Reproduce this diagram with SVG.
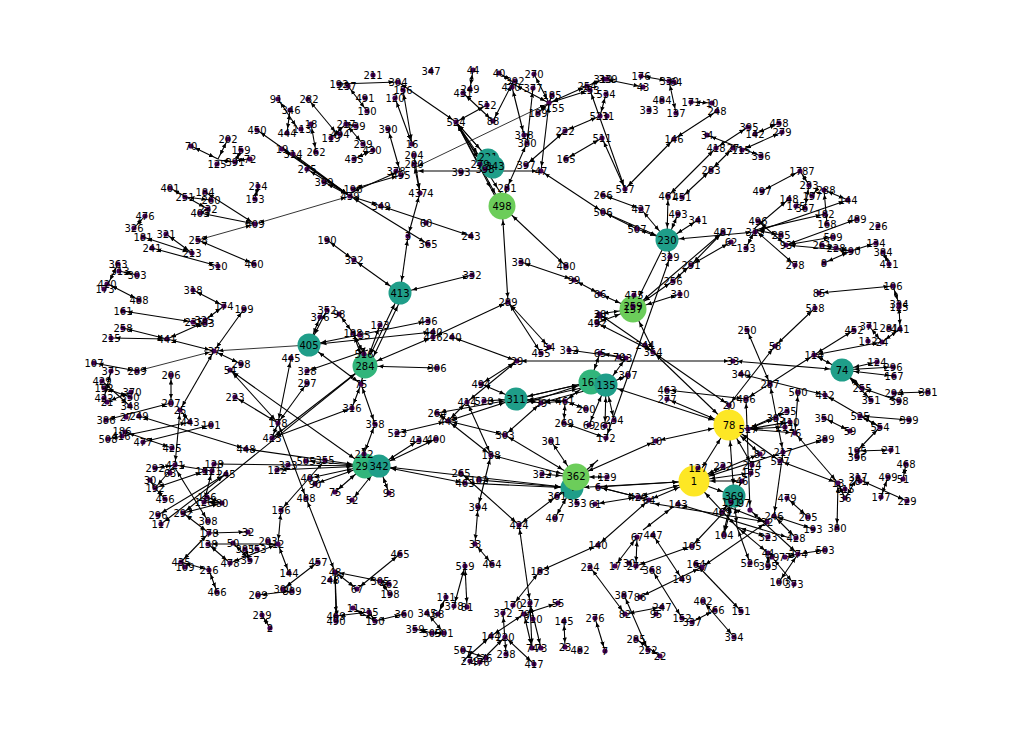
<svg xmlns="http://www.w3.org/2000/svg" width="1022" height="734" viewBox="0 0 1022 734">
<style>
path{fill:none;stroke:#000;stroke-width:1.1}
.t path{stroke-width:.8}
#connectors{marker-start:url(#m0);marker-end:url(#m0)}
.b1{marker-end:url(#m1)}.b2{marker-end:url(#m2)}.b3{marker-end:url(#m3)}.b4{marker-end:url(#m4)}
.a1{marker-start:url(#m1)}.a2{marker-start:url(#m2)}.a4{marker-start:url(#m4)}
circle{r:2.6px;fill:#440154}
text{font:10px "DejaVu Sans",sans-serif;fill:#000;text-anchor:middle;dominant-baseline:central}
.T circle{r:11.5px;fill:#1f9e89}
.G circle{r:12.5px;fill:#31b57b}
.L circle{r:13.5px;fill:#6ccd5a}
.Y circle{r:15.5px;fill:#fde725}
</style>
<defs>
<marker id="m0" markerUnits="userSpaceOnUse" orient="auto-start-reverse" markerWidth="6" markerHeight="5" refX="9.5" refY="2.5"><path d="M0 .3L5 2.5L0 4.7Z" style="fill:#000;stroke:none"/></marker>
<marker id="m1" markerUnits="userSpaceOnUse" orient="auto-start-reverse" markerWidth="6" markerHeight="5" refX="17.5" refY="2.5"><path d="M0 .3L5 2.5L0 4.7Z" style="fill:#000;stroke:none"/></marker>
<marker id="m2" markerUnits="userSpaceOnUse" orient="auto-start-reverse" markerWidth="6" markerHeight="5" refX="18.5" refY="2.5"><path d="M0 .3L5 2.5L0 4.7Z" style="fill:#000;stroke:none"/></marker>
<marker id="m3" markerUnits="userSpaceOnUse" orient="auto-start-reverse" markerWidth="6" markerHeight="5" refX="19.5" refY="2.5"><path d="M0 .3L5 2.5L0 4.7Z" style="fill:#000;stroke:none"/></marker>
<marker id="m4" markerUnits="userSpaceOnUse" orient="auto-start-reverse" markerWidth="6" markerHeight="5" refX="21.5" refY="2.5"><path d="M0 .3L5 2.5L0 4.7Z" style="fill:#000;stroke:none"/></marker>
</defs>
<g id="connectors">
<path d="M278 99L298 129"/><path d="M290 110L287 133"/><path d="M311 124L316 152"/><path d="M308 99L338 135"/><path d="M331 138L346 124"/><path d="M346 124L363 144"/><path d="M356 126L346 124"/><path d="M354 159L373 150"/><path d="M257 130L350 196"/><path d="M282 149L350 196"/><path d="M293 154L350 196"/><path d="M307 169L350 196"/><path d="M324 182L350 196"/><path d="M191 146L218 159"/><path d="M228 139L218 159"/><path d="M241 150L235 162"/><path d="M248 159L235 161"/><path d="M218 160L235 162"/><path d="M258 186L255 199"/><path d="M170 188L208 209"/><path d="M185 197L211 200"/><path d="M205 192L255 224"/><path d="M200 213L255 224"/><path d="M208 209L200 213"/><path d="M145 216L134 228"/><path d="M143 237L192 253"/><path d="M166 234L192 253"/><path d="M152 248L218 266"/><path d="M198 240L254 264"/><path d="M327 240L354 260"/><path d="M118 264L108 284"/><path d="M119 271L137 275"/><path d="M108 284L139 300"/><path d="M339 84L398 82"/><path d="M348 86L367 111"/><path d="M398 82L456 122"/><path d="M403 90L412 144"/><path d="M395 98L412 144"/><path d="M388 129L400 171"/><path d="M414 155L420 193"/><path d="M414 164L420 193"/><path d="M400 171L350 193"/><path d="M401 175L353 189"/><path d="M414 171L541 171"/>
<g class="t"><path d="M255 224L350 196"/><path d="M198 240L255 224"/><path d="M414 168L549 103"/><path d="M309 345L214 351"/><path d="M214 351L137 371"/></g>
<path d="M463 93L493 121"/><path d="M487 105L456 122"/><path d="M470 89L473 70"/><path d="M499 73L513 82"/><path d="M513 82L493 121"/><path d="M512 87L524 135"/><path d="M534 74L549 103"/><path d="M533 88L527 143"/><path d="M513 84L549 103"/><path d="M552 95L549 103"/><path d="M587 86L549 103"/><path d="M590 90L549 103"/><path d="M538 113L549 103"/><path d="M549 103L541 171"/><path d="M604 79L587 86"/><path d="M641 76L669 81"/><path d="M604 79L643 87"/><path d="M590 90L625 189"/><path d="M606 94L600 116"/><path d="M600 116L565 131"/><path d="M565 131L526 165"/><path d="M602 138L566 159"/><path d="M602 138L625 189"/><path d="M625 189L674 139"/><path d="M674 139L717 111"/><path d="M527 143L507 188"/><path d="M541 171L603 212"/><path d="M603 212L637 229"/><path d="M603 195L641 209"/><path d="M521 262L574 280"/><path d="M574 280L600 294"/><path d="M508 302L549 347"/><path d="M508 302L541 353"/><path d="M381 206L471 236"/><path d="M381 206L350 196"/><path d="M350 196L428 244"/><path d="M408 236L420 193"/><path d="M669 81L676 113"/><path d="M691 102L712 103"/><path d="M668 196L716 148"/><path d="M682 197L711 170"/><path d="M711 170L733 148"/><path d="M716 148L748 127"/><path d="M707 135L761 156"/><path d="M742 150L782 132"/><path d="M755 134L779 123"/><path d="M762 191L800 171"/><path d="M809 185L805 208"/><path d="M809 185L800 171"/><path d="M789 199L755 228"/><path d="M758 221L786 245"/><path d="M755 230L746 248"/><path d="M795 265L755 230"/><path d="M755 230L825 214"/><path d="M781 235L755 230"/><path d="M755 232L848 200"/><path d="M824 190L848 200"/><path d="M824 190L827 224"/><path d="M786 245L857 219"/><path d="M786 245L833 237"/><path d="M786 245L851 251"/><path d="M822 245L851 251"/><path d="M851 251L876 243"/><path d="M851 251L824 263"/><path d="M883 252L889 264"/><path d="M812 196L818 188"/>
<path d="M723 232L691 265"/><path d="M731 242L691 265"/><path d="M691 265L673 281"/><path d="M214 351L244 309"/><path d="M214 351L180 410"/><path d="M214 351L241 364"/><path d="M214 351L167 339"/><path d="M167 339L123 328"/><path d="M167 339L111 338"/><path d="M167 339L205 322"/><path d="M193 290L224 306"/><path d="M224 306L205 320"/><path d="M123 311L193 322"/><path d="M171 403L171 375"/><path d="M171 403L106 420"/><path d="M180 410L175 465"/><path d="M180 410L190 422"/><path d="M211 425L143 442"/><path d="M139 416L246 449"/><path d="M108 439L190 422"/><path d="M125 432L172 448"/><path d="M94 363L137 371"/><path d="M111 371L104 398"/><path d="M102 381L130 406"/><path d="M131 392L107 402"/><path d="M130 397L104 388"/>
<path d="M235 397L278 423"/><path d="M230 370L278 423"/><path d="M291 358L278 423"/><path d="M307 383L278 423"/><path d="M278 423L272 438"/><path d="M272 438L352 408"/><path d="M353 333L364 354"/><path d="M339 314L353 333"/><path d="M307 371L368 350"/><path d="M361 384L352 408"/><path d="M361 384L375 424"/><path d="M375 424L364 454"/><path d="M325 460L281 510"/><path d="M281 510L278 544"/><path d="M306 498L278 423"/><path d="M306 498L335 572"/><path d="M175 465L212 471"/><path d="M155 468L175 465"/><path d="M175 465L155 488"/><path d="M155 488L150 480"/><path d="M155 488L165 499"/><path d="M155 488L205 471"/><path d="M175 468L208 521"/><path d="M212 471L204 502"/><path d="M207 497L222 503"/><path d="M204 502L222 503"/><path d="M183 513L222 503"/><path d="M183 513L209 533"/><path d="M209 533L248 532"/><path d="M158 515L226 474"/><path d="M161 524L226 474"/><path d="M209 533L181 562"/><path d="M181 562L209 570"/><path d="M209 570L217 592"/><path d="M208 544L278 544"/><path d="M208 544L230 563"/><path d="M233 543L250 560"/><path d="M230 563L278 544"/><path d="M250 560L245 549"/><path d="M278 544L289 573"/><path d="M318 562L283 589"/><path d="M258 595L292 591"/><path d="M262 615L270 628"/><path d="M335 572L380 581"/><path d="M335 572L357 589"/><path d="M357 589L400 554"/><path d="M380 581L390 594"/><path d="M380 581L389 584"/><path d="M335 572L336 616"/><path d="M335 574L337 620"/><path d="M336 616L369 612"/><path d="M353 608L375 621"/><path d="M369 612L375 621"/><path d="M375 621L404 614"/><path d="M427 613L444 633"/><path d="M415 629L432 633"/><path d="M432 633L444 633"/><path d="M446 597L438 614"/>
<path d="M508 302L433 337"/><path d="M452 337L517 361"/><path d="M481 384L517 361"/><path d="M467 402L517 361"/><path d="M517 361L733 361"/><path d="M467 402L448 421"/><path d="M467 402L491 455"/><path d="M448 421L437 413"/><path d="M448 421L397 433"/><path d="M448 421L505 435"/><path d="M448 421L491 455"/><path d="M505 435L541 403"/><path d="M541 403L565 401"/><path d="M565 401L586 409"/><path d="M565 401L564 423"/><path d="M564 423L606 438"/><path d="M670 257L606 438"/><path d="M569 350L626 358"/><path d="M600 353L626 358"/><path d="M654 352L597 323"/><path d="M654 352L599 314"/><path d="M478 507L491 455"/><path d="M478 507L475 544"/><path d="M475 544L492 564"/><path d="M461 473L519 525"/><path d="M519 525L557 496"/><path d="M519 525L530 603"/><path d="M557 496L598 460"/><path d="M638 497L595 504"/><path d="M649 500L598 487"/><path d="M638 497L598 487"/><path d="M598 545L649 500"/><path d="M598 545L540 571"/><path d="M540 571L513 605"/><path d="M678 504L790 538"/><path d="M673 507L643 530"/><path d="M692 546L740 495"/><path class="t" d="M650 503L767 522"/>
<path d="M653 352L729 405"/><path d="M747 330L770 384"/><path d="M770 384L783 452"/><path d="M783 452L774 516"/><path d="M815 308L775 346"/><path d="M775 346L729 405"/><path d="M741 374L825 395"/><path d="M825 395L880 427"/><path d="M860 416L909 420"/><path d="M860 416L880 427"/><path d="M880 427L857 451"/><path d="M857 451L891 450"/><path d="M824 418L850 431"/><path d="M862 388L899 401"/><path d="M894 393L928 392"/><path d="M814 355L746 399"/><path d="M814 355L854 330"/><path d="M814 355L882 342"/><path d="M882 342L869 326"/><path d="M882 342L900 329"/><path d="M893 286L819 293"/><path d="M893 286L899 304"/><path d="M899 304L900 329"/><path d="M667 390L746 399"/><path d="M746 399L750 510"/><path d="M798 392L795 433"/><path d="M795 433L838 483"/><path d="M780 461L838 483"/><path d="M838 483L837 528"/><path d="M838 483L845 498"/><path d="M845 498L858 477"/><path d="M860 480L907 501"/><path d="M881 497L888 477"/><path d="M906 464L903 479"/><path d="M787 498L808 517"/><path d="M774 516L813 529"/><path d="M774 516L796 538"/><path d="M767 522L702 567"/><path d="M702 567L640 597"/><path d="M696 564L741 611"/><path d="M652 570L682 618"/><path d="M653 535L682 579"/><path d="M637 537L615 566"/><path d="M637 537L636 566"/><path d="M636 566L692 546"/><path d="M625 614L662 607"/><path d="M590 567L625 614"/><path d="M624 595L648 650"/><path d="M636 639L660 656"/><path d="M703 601L734 637"/><path d="M715 610L692 622"/><path d="M595 618L605 651"/><path d="M564 621L565 647"/><path d="M530 603L541 648"/><path d="M524 614L558 603"/><path d="M524 614L491 636"/><path d="M524 614L532 648"/><path d="M530 603L532 648"/><path d="M503 613L506 654"/><path d="M491 636L463 661"/><path d="M505 637L534 664"/><path d="M505 637L480 662"/><path d="M463 650L486 658"/><path d="M465 566L454 606"/><path d="M465 566L467 607"/><path d="M737 527L750 563"/><path d="M737 527L768 553"/><path d="M737 527L768 537"/><path d="M731 502L723 535"/><path d="M731 508L767 522"/><path d="M768 553L768 566"/><path d="M794 584L772 557"/><path d="M779 582L798 554"/><path d="M798 554L825 550"/><path d="M785 557L798 554"/><path d="M750 510L798 554"/>
<g class="b1"><path d="M354 260L400 293"/><path d="M472 275L400 293"/><path d="M408 236L400 293"/><path d="M456 122L488 158"/><path d="M456 122L495 166"/><path d="M456 122L484 163"/><path d="M456 122L484 168"/><path d="M641 209L667 240"/><path d="M603 212L667 240"/><path d="M637 229L667 240"/><path d="M668 196L667 240"/><path d="M678 214L667 240"/><path d="M698 220L667 240"/><path d="M670 257L667 240"/><path d="M755 232L667 240"/><path d="M320 317L309 345"/><path d="M327 310L309 345"/><path d="M428 321L309 345"/><path d="M433 332L309 345"/><path d="M361 384L309 345"/><path d="M481 384L516 399"/><path d="M484 401L516 399"/><path d="M448 421L516 399"/><path d="M437 413L516 399"/><path d="M541 403L516 399"/><path d="M565 401L516 399"/><path d="M436 439L379 466"/><path d="M419 440L379 466"/><path d="M389 493L379 466"/><path d="M352 500L379 466"/><path d="M465 483L379 466"/><path d="M589 425L606 385"/><path d="M605 426L606 385"/><path d="M614 420L606 385"/><path d="M628 375L606 385"/><path d="M626 358L606 385"/><path d="M541 403L606 385"/><path d="M733 361L842 370"/><path d="M814 355L842 370"/><path d="M877 362L842 370"/><path d="M893 367L842 370"/><path d="M894 376L842 370"/><path d="M862 388L842 370"/><path d="M871 400L842 370"/><path d="M465 483L572 488"/><path d="M479 480L572 488"/><path d="M557 496L572 488"/><path d="M577 503L572 488"/><path d="M555 518L572 488"/><path d="M694 481L734 496"/><path d="M742 481L734 496"/><path d="M722 512L734 496"/><path d="M724 535L734 496"/><path d="M737 527L734 496"/></g>
<g class="b2"><path d="M306 461L365 466"/><path d="M277 470L365 466"/><path d="M214 464L365 466"/><path d="M310 478L365 466"/><path d="M315 484L365 466"/><path d="M335 492L365 466"/><path d="M246 449L365 466"/><path d="M230 370L365 466"/><path d="M364 454L365 466"/><path d="M600 353L590 382"/><path d="M565 401L590 382"/><path d="M516 399L590 382"/><path d="M511 408L590 382"/><path d="M380 325L365 366"/><path d="M272 438L365 366"/><path d="M183 513L365 366"/><path d="M353 333L365 366"/><path d="M364 354L365 366"/><path d="M433 337L365 366"/><path d="M437 368L365 366"/><path d="M361 384L365 366"/></g>
<g class="b3"><path d="M508 302L502 206"/><path d="M566 266L502 206"/><path d="M507 188L502 206"/><path d="M456 122L502 206"/><path d="M456 122L497 200"/><path d="M456 122L505 200"/><path d="M600 294L633 309"/><path d="M723 232L633 309"/><path d="M667 240L633 309"/><path d="M673 281L633 309"/><path d="M680 294L633 309"/><path d="M599 314L633 309"/><path d="M597 323L633 309"/><path d="M654 352L633 309"/><path d="M551 441L575 477"/><path d="M656 441L575 477"/><path d="M607 477L575 477"/><path d="M542 474L575 477"/><path d="M505 435L575 477"/><path d="M491 455L575 477"/></g>
<g class="b4"><path d="M667 399L729 425"/><path d="M729 405L729 425"/><path d="M748 429L729 425"/><path d="M653 352L729 425"/><path d="M656 441L729 425"/><path d="M760 454L729 425"/><path d="M752 465L729 425"/><path d="M780 461L729 425"/><path d="M638 497L694 481"/><path d="M649 500L694 481"/><path d="M598 487L694 481"/><path d="M825 439L694 481"/><path d="M723 466L694 481"/><path d="M760 454L694 481"/><path d="M742 481L694 481"/><path d="M751 473L694 481"/><path d="M737 527L694 481"/></g>
<path d="M748 429L787 411"/><path d="M748 429L776 418"/><path d="M748 429L790 422"/><path d="M748 429L785 427"/><path d="M748 429L795 433"/>
<path class="a1 b2" d="M400 293L365 366"/><path class="a1 b2" d="M403 295L368 368"/>
<path class="a2 b1" d="M590 382L516 399"/><path class="a2 b1" d="M590 386L516 403"/>
<path class="a1 b4" d="M572 488L694 481"/><path class="a1 b4" d="M606 385L729 425"/><path class="a1 b4" d="M734 496L729 425"/>
<path class="a1 b1" d="M379 466L572 488"/><path class="a4 b4" d="M694 481L729 425"/>
</g>
<g id="nodes">
<g id="n293" class="G"><circle cx="365" cy="466"/><text x="365" y="466">293</text></g>
<g id="n342" class="T"><circle cx="379" cy="466"/><text x="379" y="466">342</text></g>
<g id="n284" class="G"><circle cx="365" cy="366"/><text x="365" y="366">284</text></g>
<g id="n405" class="T"><circle cx="309" cy="345"/><text x="309" y="345">405</text></g>
<g id="n413" class="T"><circle cx="400" cy="293"/><text x="400" y="293">413</text></g>
<g id="n221" class="T"><circle cx="488" cy="160"/><text x="488" y="157">221</text></g>
<g id="n343" class="T"><circle cx="493" cy="167"/><text x="495" y="166">343</text></g>
<g id="n498" class="L"><circle cx="502" cy="206"/><text x="502" y="206">498</text></g>
<g id="n230" class="T"><circle cx="667" cy="240"/><text x="667" y="240">230</text></g>
<g id="n157" class="L"><circle cx="633" cy="309"/><text x="633" y="309">157</text></g>
<g id="n311" class="T"><circle cx="516" cy="399"/><text x="516" y="399">311</text></g>
<g id="n162" class="G"><circle cx="591" cy="382"/><text x="591" y="382">162</text></g>
<g id="n135" class="T"><circle cx="606" cy="385"/><text x="606" y="385">135</text></g>
<g id="n4" class="T"><circle cx="572" cy="488"/><text x="572" y="487">4</text></g>
<g id="n362" class="L"><circle cx="576" cy="477"/><text x="576" y="476">362</text></g>
<g id="n74" class="T"><circle cx="842" cy="370"/><text x="842" y="370">74</text></g>
<g id="n78" class="Y"><circle cx="729" cy="425"/><text x="729" y="425">78</text></g>
<g id="n1" class="Y"><circle cx="694" cy="481"/><text x="694" y="481">1</text></g>
<g id="n369" class="T"><circle cx="734" cy="496"/><text x="734" y="496">369</text></g>
<g id="n91"><circle cx="278" cy="99"/><text x="276" y="99">91</text></g>
<g id="n346"><circle cx="290" cy="110"/><text x="291" y="110">346</text></g>
<g id="n113"><circle cx="301" cy="129"/><text x="302" y="129">113</text></g>
<g id="n444"><circle cx="287" cy="133"/><text x="287" y="133">444</text></g>
<g id="n18"><circle cx="311" cy="124"/><text x="311" y="124">18</text></g>
<g id="n282"><circle cx="308" cy="99"/><text x="309" y="99">282</text></g>
<g id="n262"><circle cx="316" cy="152"/><text x="316" y="152">262</text></g>
<g id="n119"><circle cx="331" cy="138"/><text x="331" y="138">119</text></g>
<g id="n494t"><circle cx="340" cy="134"/><text x="340" y="134">494</text></g>
<g id="n217"><circle cx="346" cy="124"/><text x="346" y="124">217</text></g>
<g id="n139"><circle cx="356" cy="126"/><text x="356" y="126">139</text></g>
<g id="n239"><circle cx="363" cy="144"/><text x="363" y="144">239</text></g>
<g id="n435"><circle cx="354" cy="159"/><text x="354" y="159">435</text></g>
<g id="n430"><circle cx="373" cy="150"/><text x="372" y="150">430</text></g>
<g id="n192"><circle cx="339" cy="84"/><text x="339" y="84">192</text></g>
<g id="n237"><circle cx="348" cy="86"/><text x="347" y="86">237</text></g>
<g id="n211"><circle cx="373" cy="75"/><text x="373" y="75">211</text></g>
<g id="n491"><circle cx="365" cy="98"/><text x="365" y="98">491</text></g>
<g id="n130"><circle cx="367" cy="111"/><text x="367" y="111">130</text></g>
<g id="n450"><circle cx="257" cy="130"/><text x="257" y="130">450</text></g>
<g id="n19"><circle cx="282" cy="149"/><text x="282" y="149">19</text></g>
<g id="n314"><circle cx="293" cy="154"/><text x="293" y="154">314</text></g>
<g id="n275"><circle cx="307" cy="169"/><text x="307" y="169">275</text></g>
<g id="n399t"><circle cx="324" cy="182"/><text x="324" y="182">399</text></g>
<g id="n195t"><circle cx="353" cy="189"/><text x="353" y="189">196</text></g>
<g id="n439"><circle cx="350" cy="196"/><text x="350" y="196">439</text></g>
<g id="n70"><circle cx="191" cy="146"/><text x="191" y="146">70</text></g>
<g id="n202"><circle cx="228" cy="139"/><text x="228" y="139">202</text></g>
<g id="n125"><circle cx="217" cy="164"/><text x="217" y="164">125</text></g>
<g id="n159"><circle cx="241" cy="150"/><text x="241" y="150">159</text></g>
<g id="n72"><circle cx="250" cy="159"/><text x="250" y="159">72</text></g>
<g id="n391"><circle cx="235" cy="162"/><text x="235" y="162">391</text></g>
<g id="n214"><circle cx="258" cy="186"/><text x="258" y="186">214</text></g>
<g id="n153"><circle cx="255" cy="199"/><text x="255" y="199">153</text></g>
<g id="n401"><circle cx="170" cy="188"/><text x="170" y="188">401</text></g>
<g id="n251"><circle cx="185" cy="197"/><text x="185" y="197">251</text></g>
<g id="n184"><circle cx="205" cy="192"/><text x="205" y="192">184</text></g>
<g id="n260"><circle cx="211" cy="200"/><text x="211" y="200">260</text></g>
<g id="n232"><circle cx="208" cy="209"/><text x="208" y="209">232</text></g>
<g id="n402t"><circle cx="200" cy="213"/><text x="200" y="213">403</text></g>
<g id="n409"><circle cx="255" cy="224"/><text x="255" y="224">409</text></g>
<g id="n476t"><circle cx="145" cy="216"/><text x="145" y="216">476</text></g>
<g id="n326"><circle cx="134" cy="228"/><text x="134" y="228">326</text></g>
<g id="n181"><circle cx="143" cy="237"/><text x="143" y="237">181</text></g>
<g id="n321"><circle cx="166" cy="234"/><text x="166" y="234">321</text></g>
<g id="n241"><circle cx="152" cy="248"/><text x="152" y="248">241</text></g>
<g id="n256t"><circle cx="198" cy="240"/><text x="198" y="240">258</text></g>
<g id="n213"><circle cx="192" cy="253"/><text x="192" y="253">213</text></g>
<g id="n510"><circle cx="218" cy="266"/><text x="218" y="266">510</text></g>
<g id="n460"><circle cx="254" cy="264"/><text x="254" y="264">460</text></g>
<g id="n363"><circle cx="118" cy="264"/><text x="118" y="264">363</text></g>
<g id="n313"><circle cx="119" cy="271"/><text x="120" y="271">313</text></g>
<g id="n303"><circle cx="137" cy="275"/><text x="137" y="275">303</text></g>
<g id="n420"><circle cx="107" cy="284"/><text x="107" y="284">420</text></g>
<g id="n173"><circle cx="104" cy="289"/><text x="105" y="289">173</text></g>
<g id="n488t"><circle cx="139" cy="300"/><text x="139" y="300">488</text></g>
<g id="n190"><circle cx="327" cy="240"/><text x="327" y="240">190</text></g>
<g id="n322"><circle cx="354" cy="260"/><text x="354" y="260">322</text></g>
<g id="n304"><circle cx="398" cy="82"/><text x="398" y="82">304</text></g>
<g id="n156"><circle cx="403" cy="90"/><text x="403" y="90">156</text></g>
<g id="n120"><circle cx="395" cy="98"/><text x="395" y="98">120</text></g>
<g id="n16"><circle cx="412" cy="144"/><text x="412" y="144">16</text></g>
<g id="n390"><circle cx="388" cy="129"/><text x="388" y="129">390</text></g>
<g id="n204"><circle cx="414" cy="155"/><text x="414" y="155">204</text></g>
<g id="n280"><circle cx="414" cy="164"/><text x="414" y="164">280</text></g>
<g id="n378"><circle cx="396" cy="171"/><text x="396" y="171">378</text></g>
<g id="n495"><circle cx="401" cy="175"/><text x="401" y="175">495</text></g>
<g id="n4374"><circle cx="420" cy="193"/><text x="421" y="193">4374</text></g>
<g id="n347"><circle cx="431" cy="71"/><text x="431" y="71">347</text></g>
<g id="n44"><circle cx="473" cy="70"/><text x="473" y="70">44</text></g>
<g id="n249"><circle cx="470" cy="89"/><text x="470" y="89">249</text></g>
<g id="n431"><circle cx="463" cy="93"/><text x="463" y="93">431</text></g>
<g id="n512"><circle cx="487" cy="105"/><text x="487" y="105">512</text></g>
<g id="n88"><circle cx="493" cy="121"/><text x="493" y="121">88</text></g>
<g id="n524"><circle cx="456" cy="122"/><text x="456" y="122">524</text></g>
<g id="n40"><circle cx="499" cy="73"/><text x="499" y="73">40</text></g>
<g id="n392"><circle cx="515" cy="81"/><text x="515" y="81">392</text></g>
<g id="n470"><circle cx="512" cy="87"/><text x="511" y="87">470</text></g>
<g id="n270"><circle cx="534" cy="74"/><text x="534" y="74">270</text></g>
<g id="n377"><circle cx="533" cy="88"/><text x="533" y="88">377</text></g>
<g id="n185"><circle cx="552" cy="95"/><text x="552" y="95">185</text></g>
<g id="n155"><circle cx="549" cy="103"/><text x="555" y="108">155</text></g>
<g id="n189"><circle cx="538" cy="113"/><text x="538" y="113">189</text></g>
<g id="n318t"><circle cx="524" cy="135"/><text x="524" y="135">318</text></g>
<g id="n380t"><circle cx="527" cy="143"/><text x="527" y="143">380</text></g>
<g id="n393"><circle cx="461" cy="172"/><text x="461" y="172">393</text></g>
<g id="n279t"><circle cx="480" cy="164"/><text x="480" y="164">279</text></g>
<g id="n398t"><circle cx="485" cy="169"/><text x="485" y="169">398</text></g>
<g id="n281t"><circle cx="507" cy="188"/><text x="507" y="188">281</text></g>
<g id="n47"><circle cx="541" cy="171"/><text x="541" y="171">47</text></g>
<g id="n397t"><circle cx="526" cy="165"/><text x="526" y="165">397</text></g>
<g id="n222t"><circle cx="565" cy="131"/><text x="565" y="131">222</text></g>
<g id="n165"><circle cx="566" cy="159"/><text x="566" y="159">165</text></g>
<g id="n511"><circle cx="602" cy="138"/><text x="602" y="138">511</text></g>
<g id="n517t"><circle cx="625" cy="189"/><text x="625" y="189">517</text></g>
<g id="n521"><circle cx="600" cy="116"/><text x="599" y="116">521</text></g>
<g id="n31t"><circle cx="607" cy="116"/><text x="608" y="116">31</text></g>
<g id="n524t"><circle cx="606" cy="94"/><text x="606" y="94">534</text></g>
<g id="n254"><circle cx="587" cy="86"/><text x="587" y="86">254</text></g>
<g id="n253"><circle cx="590" cy="90"/><text x="590" y="90">253</text></g>
<g id="n319"><circle cx="604" cy="79"/><text x="603" y="79">319</text></g>
<g id="n339"><circle cx="607" cy="79"/><text x="608" y="79">339</text></g>
<g id="n176"><circle cx="641" cy="76"/><text x="641" y="76">176</text></g>
<g id="n43t"><circle cx="643" cy="87"/><text x="643" y="87">43</text></g>
<g id="n333"><circle cx="649" cy="110"/><text x="649" y="110">333</text></g>
<g id="n266"><circle cx="603" cy="195"/><text x="603" y="195">266</text></g>
<g id="n427t"><circle cx="641" cy="209"/><text x="641" y="209">427</text></g>
<g id="n506"><circle cx="603" cy="212"/><text x="603" y="212">506</text></g>
<g id="n507t"><circle cx="637" cy="229"/><text x="637" y="229">507</text></g>
<g id="n480"><circle cx="566" cy="266"/><text x="566" y="266">480</text></g>
<g id="n330t"><circle cx="521" cy="262"/><text x="521" y="262">330</text></g>
<g id="n99"><circle cx="574" cy="280"/><text x="574" y="280">99</text></g>
<g id="n60"><circle cx="426" cy="223"/><text x="426" y="223">60</text></g>
<g id="n243"><circle cx="471" cy="236"/><text x="471" y="236">243</text></g>
<g id="n349"><circle cx="381" cy="206"/><text x="381" y="206">349</text></g>
<g id="n365"><circle cx="428" cy="244"/><text x="428" y="244">365</text></g>
<g id="n3"><circle cx="408" cy="236"/><text x="408" y="236">3</text></g>
<g id="n332"><circle cx="472" cy="275"/><text x="472" y="275">332</text></g>
<g id="n330"><circle cx="669" cy="81"/><text x="669" y="81">330</text></g>
<g id="n64t"><circle cx="674" cy="82"/><text x="676" y="82">64</text></g>
<g id="n484"><circle cx="662" cy="100"/><text x="662" y="100">484</text></g>
<g id="n137"><circle cx="676" cy="113"/><text x="676" y="113">137</text></g>
<g id="n171"><circle cx="691" cy="102"/><text x="691" y="102">171</text></g>
<g id="n10t"><circle cx="712" cy="103"/><text x="712" y="103">10</text></g>
<g id="n248t"><circle cx="717" cy="111"/><text x="717" y="111">248</text></g>
<g id="n146"><circle cx="674" cy="139"/><text x="674" y="139">146</text></g>
<g id="n34"><circle cx="707" cy="135"/><text x="707" y="135">34</text></g>
<g id="n418"><circle cx="716" cy="148"/><text x="716" y="148">418</text></g>
<g id="n27t"><circle cx="733" cy="148"/><text x="733" y="148">27</text></g>
<g id="n115"><circle cx="742" cy="150"/><text x="741" y="150">115</text></g>
<g id="n395t"><circle cx="748" cy="127"/><text x="749" y="127">395</text></g>
<g id="n142"><circle cx="755" cy="134"/><text x="755" y="134">142</text></g>
<g id="n458"><circle cx="779" cy="123"/><text x="779" y="123">458</text></g>
<g id="n279"><circle cx="782" cy="132"/><text x="782" y="132">279</text></g>
<g id="n336"><circle cx="761" cy="156"/><text x="761" y="156">336</text></g>
<g id="n283"><circle cx="711" cy="170"/><text x="711" y="170">283</text></g>
<g id="n461t"><circle cx="668" cy="196"/><text x="668" y="196">461</text></g>
<g id="n451"><circle cx="682" cy="197"/><text x="682" y="197">451</text></g>
<g id="n493"><circle cx="678" cy="214"/><text x="678" y="214">493</text></g>
<g id="n341"><circle cx="698" cy="220"/><text x="698" y="220">341</text></g>
<g id="n487"><circle cx="723" cy="232"/><text x="723" y="232">487</text></g>
<g id="n62"><circle cx="731" cy="242"/><text x="731" y="242">62</text></g>
<g id="n133"><circle cx="746" cy="248"/><text x="746" y="248">133</text></g>
<g id="n329"><circle cx="670" cy="257"/><text x="670" y="257">329</text></g>
<g id="n291"><circle cx="691" cy="265"/><text x="691" y="265">291</text></g>
<g id="n256"><circle cx="673" cy="281"/><text x="673" y="281">256</text></g>
<g id="n310"><circle cx="680" cy="294"/><text x="680" y="294">310</text></g>
<g id="n497"><circle cx="762" cy="191"/><text x="762" y="191">497</text></g>
<g id="n1787"><circle cx="800" cy="171"/><text x="802" y="171">1787</text></g>
<g id="n233"><circle cx="809" cy="185"/><text x="809" y="185">233</text></g>
<g id="n157t"><circle cx="812" cy="196"/><text x="812" y="196">157</text></g>
<g id="n367"><circle cx="805" cy="208"/><text x="805" y="208">367</text></g>
<g id="n148"><circle cx="789" cy="199"/><text x="789" y="199">148</text></g>
<g id="n175"><circle cx="796" cy="206"/><text x="796" y="206">175</text></g>
<g id="n496"><circle cx="758" cy="221"/><text x="758" y="221">496</text></g>
<g id="n312t"><circle cx="755" cy="232"/><text x="755" y="232">312</text></g>
<g id="n285t"><circle cx="781" cy="235"/><text x="781" y="235">285</text></g>
<g id="n288"><circle cx="824" cy="190"/><text x="826" y="190">288</text></g>
<g id="n144t"><circle cx="848" cy="200"/><text x="848" y="200">144</text></g>
<g id="n182"><circle cx="825" cy="214"/><text x="825" y="214">182</text></g>
<g id="n168"><circle cx="827" cy="224"/><text x="827" y="224">168</text></g>
<g id="n489"><circle cx="857" cy="219"/><text x="857" y="219">489</text></g>
<g id="n226"><circle cx="878" cy="226"/><text x="878" y="226">226</text></g>
<g id="n509t"><circle cx="833" cy="237"/><text x="833" y="237">509</text></g>
<g id="n261"><circle cx="822" cy="245"/><text x="822" y="245">261</text></g>
<g id="n228"><circle cx="836" cy="248"/><text x="836" y="248">228</text></g>
<g id="n490t"><circle cx="851" cy="251"/><text x="851" y="251">490</text></g>
<g id="n134"><circle cx="876" cy="243"/><text x="876" y="243">134</text></g>
<g id="n384"><circle cx="883" cy="252"/><text x="883" y="252">384</text></g>
<g id="n411"><circle cx="889" cy="264"/><text x="889" y="264">411</text></g>
<g id="n8"><circle cx="824" cy="263"/><text x="824" y="263">8</text></g>
<g id="n278"><circle cx="795" cy="265"/><text x="795" y="265">278</text></g>
<g id="n93t"><circle cx="786" cy="245"/><text x="786" y="245">93</text></g>
<g id="n318"><circle cx="193" cy="290"/><text x="193" y="290">318</text></g>
<g id="n174"><circle cx="224" cy="306"/><text x="224" y="306">174</text></g>
<g id="n199"><circle cx="244" cy="309"/><text x="244" y="309">199</text></g>
<g id="n228t"><circle cx="193" cy="322"/><text x="194" y="322">235</text></g>
<g id="n325"><circle cx="205" cy="320"/><text x="204" y="320">325</text></g>
<g id="n283t"><circle cx="205" cy="323"/><text x="205" y="323">283</text></g>
<g id="n161"><circle cx="123" cy="311"/><text x="123" y="311">161</text></g>
<g id="n258"><circle cx="123" cy="328"/><text x="123" y="328">258</text></g>
<g id="n215"><circle cx="111" cy="338"/><text x="111" y="338">215</text></g>
<g id="n441t"><circle cx="167" cy="339"/><text x="167" y="339">441</text></g>
<g id="n37"><circle cx="214" cy="351"/><text x="214" y="351">37</text></g>
<g id="n298"><circle cx="241" cy="364"/><text x="241" y="364">298</text></g>
<g id="n107"><circle cx="94" cy="363"/><text x="94" y="363">107</text></g>
<g id="n375"><circle cx="111" cy="371"/><text x="111" y="371">375</text></g>
<g id="n289t"><circle cx="137" cy="371"/><text x="137" y="371">289</text></g>
<g id="n429t"><circle cx="102" cy="381"/><text x="102" y="381">429</text></g>
<g id="n19t"><circle cx="104" cy="388"/><text x="104" y="388">192</text></g>
<g id="n422"><circle cx="104" cy="398"/><text x="104" y="398">422</text></g>
<g id="n21"><circle cx="107" cy="402"/><text x="107" y="402">21</text></g>
<g id="n370"><circle cx="131" cy="392"/><text x="132" y="392">370</text></g>
<g id="n350t"><circle cx="130" cy="397"/><text x="130" y="397">350</text></g>
<g id="n348"><circle cx="130" cy="406"/><text x="130" y="406">348</text></g>
<g id="n206"><circle cx="171" cy="375"/><text x="171" y="375">206</text></g>
<g id="n207"><circle cx="171" cy="403"/><text x="171" y="403">207</text></g>
<g id="n25"><circle cx="180" cy="410"/><text x="180" y="410">25</text></g>
<g id="n443"><circle cx="190" cy="422"/><text x="190" y="422">443</text></g>
<g id="n101"><circle cx="211" cy="425"/><text x="211" y="425">101</text></g>
<g id="n27"><circle cx="126" cy="417"/><text x="126" y="417">27</text></g>
<g id="n49"><circle cx="139" cy="416"/><text x="139" y="416">249</text></g>
<g id="n386"><circle cx="106" cy="420"/><text x="106" y="420">386</text></g>
<g id="n508"><circle cx="108" cy="439"/><text x="108" y="439">508</text></g>
<g id="n18t"><circle cx="125" cy="432"/><text x="122" y="431">186</text></g>
<g id="n416t"><circle cx="122" cy="436"/><text x="121" y="436">416</text></g>
<g id="n427"><circle cx="143" cy="442"/><text x="143" y="442">477</text></g>
<g id="n425"><circle cx="172" cy="448"/><text x="172" y="448">425</text></g>
<g id="n448"><circle cx="246" cy="449"/><text x="246" y="449">448</text></g>
<g id="n223t"><circle cx="235" cy="397"/><text x="235" y="397">223</text></g>
<g id="n54t"><circle cx="230" cy="370"/><text x="230" y="370">54</text></g>
<g id="n445"><circle cx="291" cy="358"/><text x="291" y="358">445</text></g>
<g id="n328"><circle cx="307" cy="371"/><text x="307" y="371">328</text></g>
<g id="n297"><circle cx="307" cy="383"/><text x="307" y="383">297</text></g>
<g id="n352"><circle cx="327" cy="310"/><text x="327" y="310">352</text></g>
<g id="n376"><circle cx="320" cy="317"/><text x="320" y="317">376</text></g>
<g id="n98"><circle cx="339" cy="314"/><text x="339" y="314">98</text></g>
<g id="n188"><circle cx="353" cy="333"/><text x="353" y="333">188</text></g>
<g id="n163"><circle cx="360" cy="335"/><text x="361" y="335">135</text></g>
<g id="n123"><circle cx="380" cy="325"/><text x="380" y="325">123</text></g>
<g id="n516"><circle cx="364" cy="354"/><text x="364" y="354">516</text></g>
<g id="n75t"><circle cx="361" cy="384"/><text x="361" y="384">75</text></g>
<g id="n316"><circle cx="352" cy="408"/><text x="352" y="408">316</text></g>
<g id="n358"><circle cx="375" cy="424"/><text x="375" y="424">358</text></g>
<g id="n212"><circle cx="364" cy="454"/><text x="364" y="454">212</text></g>
<g id="n178t"><circle cx="278" cy="423"/><text x="278" y="423">178</text></g>
<g id="n423"><circle cx="272" cy="438"/><text x="272" y="438">423</text></g>
<g id="n505"><circle cx="306" cy="461"/><text x="306" y="461">505</text></g>
<g id="n355"><circle cx="325" cy="460"/><text x="325" y="460">355</text></g>
<g id="n122"><circle cx="277" cy="470"/><text x="277" y="470">122</text></g>
<g id="n128"><circle cx="214" cy="464"/><text x="214" y="464">128</text></g>
<g id="n323t"><circle cx="288" cy="465"/><text x="288" y="465">323</text></g>
<g id="n292"><circle cx="155" cy="468"/><text x="155" y="468">292</text></g>
<g id="n421"><circle cx="175" cy="465"/><text x="175" y="465">421</text></g>
<g id="n63"><circle cx="170" cy="473"/><text x="170" y="473">63</text></g>
<g id="n131"><circle cx="205" cy="471"/><text x="205" y="471">131</text></g>
<g id="n121"><circle cx="212" cy="471"/><text x="212" y="471">121</text></g>
<g id="n245"><circle cx="226" cy="474"/><text x="226" y="474">245</text></g>
<g id="n30"><circle cx="150" cy="480"/><text x="150" y="480">30</text></g>
<g id="n192b"><circle cx="155" cy="488"/><text x="155" y="488">192</text></g>
<g id="n456"><circle cx="165" cy="499"/><text x="165" y="499">456</text></g>
<g id="n403"><circle cx="310" cy="478"/><text x="310" y="478">403</text></g>
<g id="n90"><circle cx="315" cy="484"/><text x="315" y="484">90</text></g>
<g id="n75"><circle cx="335" cy="492"/><text x="335" y="492">75</text></g>
<g id="n52"><circle cx="352" cy="500"/><text x="352" y="500">52</text></g>
<g id="n488"><circle cx="306" cy="498"/><text x="306" y="498">488</text></g>
<g id="n136"><circle cx="281" cy="510"/><text x="281" y="510">136</text></g>
<g id="n156b"><circle cx="207" cy="497"/><text x="207" y="497">156</text></g>
<g id="n126"><circle cx="204" cy="502"/><text x="204" y="502">126</text></g>
<g id="n80"><circle cx="222" cy="503"/><text x="222" y="503">80</text></g>
<g id="n296t"><circle cx="158" cy="515"/><text x="158" y="515">296</text></g>
<g id="n292b"><circle cx="183" cy="513"/><text x="183" y="513">292</text></g>
<g id="n117"><circle cx="161" cy="524"/><text x="161" y="524">117</text></g>
<g id="n308"><circle cx="208" cy="521"/><text x="208" y="521">308</text></g>
<g id="n32t"><circle cx="248" cy="532"/><text x="248" y="532">32</text></g>
<g id="n178"><circle cx="209" cy="533"/><text x="209" y="533">178</text></g>
<g id="n138b"><circle cx="208" cy="544"/><text x="208" y="544">138</text></g>
<g id="n50"><circle cx="233" cy="543"/><text x="233" y="543">50</text></g>
<g id="n478"><circle cx="230" cy="563"/><text x="230" y="563">478</text></g>
<g id="n357"><circle cx="250" cy="560"/><text x="250" y="560">357</text></g>
<g id="n385"><circle cx="245" cy="549"/><text x="245" y="549">385</text></g>
<g id="n353b"><circle cx="257" cy="549"/><text x="257" y="549">353</text></g>
<g id="n203"><circle cx="268" cy="541"/><text x="268" y="541">203</text></g>
<g id="n12"><circle cx="278" cy="544"/><text x="278" y="544">12</text></g>
<g id="n144"><circle cx="289" cy="573"/><text x="289" y="573">144</text></g>
<g id="n457"><circle cx="318" cy="562"/><text x="318" y="562">457</text></g>
<g id="n435b"><circle cx="181" cy="562"/><text x="181" y="562">435</text></g>
<g id="n109"><circle cx="185" cy="567"/><text x="185" y="567">109</text></g>
<g id="n216"><circle cx="209" cy="570"/><text x="209" y="570">216</text></g>
<g id="n466"><circle cx="217" cy="592"/><text x="217" y="592">466</text></g>
<g id="n209"><circle cx="258" cy="595"/><text x="258" y="595">209</text></g>
<g id="n300"><circle cx="283" cy="589"/><text x="283" y="589">300</text></g>
<g id="n389t"><circle cx="292" cy="591"/><text x="292" y="591">389</text></g>
<g id="n219"><circle cx="262" cy="615"/><text x="262" y="615">219</text></g>
<g id="n2"><circle cx="270" cy="628"/><text x="270" y="628">2</text></g>
<g id="n48"><circle cx="335" cy="572"/><text x="335" y="572">48</text></g>
<g id="n248"><circle cx="330" cy="580"/><text x="330" y="580">248</text></g>
<g id="n67t"><circle cx="357" cy="589"/><text x="357" y="589">67</text></g>
<g id="n305"><circle cx="380" cy="581"/><text x="380" y="581">305</text></g>
<g id="n462"><circle cx="389" cy="584"/><text x="389" y="584">462</text></g>
<g id="n198"><circle cx="390" cy="594"/><text x="390" y="594">198</text></g>
<g id="n465"><circle cx="400" cy="554"/><text x="400" y="554">465</text></g>
<g id="n11"><circle cx="353" cy="608"/><text x="353" y="608">11</text></g>
<g id="n215b"><circle cx="369" cy="612"/><text x="369" y="612">215</text></g>
<g id="n150"><circle cx="375" cy="621"/><text x="375" y="621">150</text></g>
<g id="n469t"><circle cx="336" cy="616"/><text x="336" y="616">469</text></g>
<g id="n490"><circle cx="336" cy="621"/><text x="336" y="621">490</text></g>
<g id="n360"><circle cx="404" cy="614"/><text x="404" y="614">360</text></g>
<g id="n345"><circle cx="427" cy="613"/><text x="427" y="613">345</text></g>
<g id="n68"><circle cx="438" cy="614"/><text x="438" y="614">68</text></g>
<g id="n359"><circle cx="415" cy="629"/><text x="415" y="629">359</text></g>
<g id="n509"><circle cx="432" cy="633"/><text x="432" y="633">509</text></g>
<g id="n501"><circle cx="444" cy="633"/><text x="444" y="633">501</text></g>
<g id="n289"><circle cx="508" cy="302"/><text x="508" y="302">289</text></g>
<g id="n54"><circle cx="549" cy="347"/><text x="549" y="347">54</text></g>
<g id="n455"><circle cx="541" cy="353"/><text x="541" y="353">455</text></g>
<g id="n436"><circle cx="428" cy="321"/><text x="428" y="321">436</text></g>
<g id="n440"><circle cx="433" cy="332"/><text x="433" y="332">440</text></g>
<g id="n416"><circle cx="433" cy="337"/><text x="433" y="337">416</text></g>
<g id="n240"><circle cx="452" cy="337"/><text x="452" y="337">240</text></g>
<g id="n306"><circle cx="437" cy="368"/><text x="437" y="368">306</text></g>
<g id="n494"><circle cx="481" cy="384"/><text x="481" y="384">494</text></g>
<g id="n414"><circle cx="467" cy="402"/><text x="467" y="402">414</text></g>
<g id="n528"><circle cx="484" cy="401"/><text x="484" y="401">528</text></g>
<g id="n264"><circle cx="437" cy="413"/><text x="437" y="413">264</text></g>
<g id="n445b"><circle cx="448" cy="421"/><text x="448" y="421">445</text></g>
<g id="n523"><circle cx="397" cy="433"/><text x="397" y="433">523</text></g>
<g id="n434"><circle cx="419" cy="440"/><text x="419" y="440">434</text></g>
<g id="n400"><circle cx="436" cy="439"/><text x="436" y="439">400</text></g>
<g id="n303b"><circle cx="505" cy="435"/><text x="505" y="435">303</text></g>
<g id="n138"><circle cx="491" cy="455"/><text x="491" y="455">138</text></g>
<g id="n93"><circle cx="389" cy="493"/><text x="389" y="493">93</text></g>
<g id="n265"><circle cx="461" cy="473"/><text x="461" y="473">265</text></g>
<g id="n102"><circle cx="479" cy="480"/><text x="479" y="480">102</text></g>
<g id="n463t"><circle cx="465" cy="483"/><text x="465" y="483">463</text></g>
<g id="n394"><circle cx="478" cy="507"/><text x="478" y="507">394</text></g>
<g id="n29"><circle cx="517" cy="361"/><text x="517" y="361">29</text></g>
<g id="n312"><circle cx="569" cy="350"/><text x="569" y="350">312</text></g>
<g id="n65"><circle cx="600" cy="353"/><text x="600" y="353">65</text></g>
<g id="n70b"><circle cx="619" cy="357"/><text x="619" y="357">70</text></g>
<g id="n43"><circle cx="626" cy="358"/><text x="626" y="358">43</text></g>
<g id="n307"><circle cx="628" cy="375"/><text x="628" y="375">307</text></g>
<g id="n464t"><circle cx="565" cy="401"/><text x="565" y="401">461</text></g>
<g id="n39"><circle cx="541" cy="403"/><text x="541" y="403">39</text></g>
<g id="n200"><circle cx="586" cy="409"/><text x="586" y="409">200</text></g>
<g id="n269"><circle cx="564" cy="423"/><text x="564" y="423">269</text></g>
<g id="n69"><circle cx="589" cy="425"/><text x="589" y="425">69</text></g>
<g id="n201"><circle cx="605" cy="426"/><text x="603" y="426">261</text></g>
<g id="n234"><circle cx="614" cy="420"/><text x="614" y="420">234</text></g>
<g id="n172"><circle cx="606" cy="438"/><text x="606" y="438">172</text></g>
<g id="n301"><circle cx="551" cy="441"/><text x="551" y="441">301</text></g>
<g id="n322b"><circle cx="542" cy="474"/><text x="542" y="474">322</text></g>
<g id="n129"><circle cx="607" cy="477"/><text x="607" y="477">129</text></g>
<g id="n6"><circle cx="598" cy="487"/><text x="598" y="487">6</text></g>
<g id="n361"><circle cx="557" cy="496"/><text x="557" y="496">361</text></g>
<g id="n353"><circle cx="577" cy="503"/><text x="577" y="503">353</text></g>
<g id="n61"><circle cx="595" cy="504"/><text x="595" y="504">61</text></g>
<g id="n407"><circle cx="555" cy="518"/><text x="555" y="518">407</text></g>
<g id="n28"><circle cx="599" cy="314"/><text x="600" y="314">28</text></g>
<g id="n38b"><circle cx="600" cy="316"/><text x="600" y="317">38</text></g>
<g id="n492"><circle cx="597" cy="323"/><text x="597" y="323">492</text></g>
<g id="n86"><circle cx="600" cy="294"/><text x="600" y="294">86</text></g>
<g id="n475"><circle cx="634" cy="295"/><text x="634" y="295">475</text></g>
<g id="n259"><circle cx="633" cy="306"/><text x="633" y="306">259</text></g>
<g id="n244"><circle cx="645" cy="345"/><text x="645" y="345">244</text></g>
<g id="n354"><circle cx="653" cy="352"/><text x="653" y="352">354</text></g>
<g id="n106"><circle cx="893" cy="286"/><text x="893" y="286">106</text></g>
<g id="n85"><circle cx="819" cy="293"/><text x="819" y="293">85</text></g>
<g id="n314b"><circle cx="899" cy="304"/><text x="899" y="304">324</text></g>
<g id="n123b"><circle cx="899" cy="307"/><text x="899" y="307">125</text></g>
<g id="n518"><circle cx="815" cy="308"/><text x="815" y="308">518</text></g>
<g id="n371"><circle cx="869" cy="326"/><text x="869" y="326">371</text></g>
<g id="n452"><circle cx="854" cy="330"/><text x="854" y="330">452</text></g>
<g id="n284b"><circle cx="889" cy="328"/><text x="889" y="328">281</text></g>
<g id="n441"><circle cx="900" cy="329"/><text x="900" y="329">441</text></g>
<g id="n112"><circle cx="868" cy="341"/><text x="868" y="341">112</text></g>
<g id="n24"><circle cx="882" cy="342"/><text x="882" y="342">24</text></g>
<g id="n250"><circle cx="747" cy="330"/><text x="747" y="330">250</text></g>
<g id="n58"><circle cx="775" cy="346"/><text x="775" y="346">58</text></g>
<g id="n114"><circle cx="814" cy="355"/><text x="814" y="355">114</text></g>
<g id="n33"><circle cx="733" cy="361"/><text x="733" y="361">33</text></g>
<g id="n124"><circle cx="877" cy="362"/><text x="877" y="362">124</text></g>
<g id="n296"><circle cx="893" cy="367"/><text x="893" y="367">296</text></g>
<g id="n167"><circle cx="894" cy="376"/><text x="894" y="376">167</text></g>
<g id="n340"><circle cx="741" cy="374"/><text x="741" y="374">340</text></g>
<g id="n287"><circle cx="770" cy="384"/><text x="770" y="384">287</text></g>
<g id="n255"><circle cx="862" cy="388"/><text x="862" y="388">255</text></g>
<g id="n351"><circle cx="871" cy="400"/><text x="871" y="400">351</text></g>
<g id="n294"><circle cx="894" cy="393"/><text x="894" y="393">294</text></g>
<g id="n398"><circle cx="899" cy="401"/><text x="899" y="401">398</text></g>
<g id="n381"><circle cx="928" cy="392"/><text x="928" y="392">381</text></g>
<g id="n500"><circle cx="798" cy="392"/><text x="798" y="392">500</text></g>
<g id="n412"><circle cx="825" cy="395"/><text x="825" y="395">412</text></g>
<g id="n463"><circle cx="667" cy="390"/><text x="667" y="390">463</text></g>
<g id="n277"><circle cx="667" cy="399"/><text x="667" y="399">277</text></g>
<g id="n486"><circle cx="746" cy="399"/><text x="746" y="399">486</text></g>
<g id="n20"><circle cx="729" cy="405"/><text x="729" y="405">20</text></g>
<g id="n235"><circle cx="787" cy="411"/><text x="787" y="411">235</text></g>
<g id="n410"><circle cx="790" cy="422"/><text x="790" y="422">410</text></g>
<g id="n385b"><circle cx="776" cy="418"/><text x="776" y="418">385</text></g>
<g id="n211b"><circle cx="785" cy="427"/><text x="785" y="427">211</text></g>
<g id="n517"><circle cx="748" cy="429"/><text x="748" y="429">517</text></g>
<g id="n76"><circle cx="795" cy="433"/><text x="795" y="433">76</text></g>
<g id="n525"><circle cx="860" cy="416"/><text x="860" y="416">525</text></g>
<g id="n399"><circle cx="909" cy="420"/><text x="909" y="420">399</text></g>
<g id="n350"><circle cx="824" cy="418"/><text x="824" y="418">350</text></g>
<g id="n59"><circle cx="850" cy="431"/><text x="850" y="431">59</text></g>
<g id="n54b"><circle cx="880" cy="427"/><text x="880" y="427">554</text></g>
<g id="n195"><circle cx="857" cy="451"/><text x="857" y="451">195</text></g>
<g id="n271"><circle cx="891" cy="450"/><text x="891" y="450">271</text></g>
<g id="n396"><circle cx="857" cy="457"/><text x="857" y="457">396</text></g>
<g id="n10"><circle cx="656" cy="441"/><text x="656" y="441">10</text></g>
<g id="n389"><circle cx="825" cy="439"/><text x="825" y="439">389</text></g>
<g id="n217b"><circle cx="783" cy="452"/><text x="783" y="452">217</text></g>
<g id="n82t"><circle cx="760" cy="454"/><text x="760" y="454">82</text></g>
<g id="n527"><circle cx="780" cy="461"/><text x="780" y="461">527</text></g>
<g id="n274"><circle cx="752" cy="465"/><text x="752" y="465">274</text></g>
<g id="n222"><circle cx="723" cy="466"/><text x="723" y="466">222</text></g>
<g id="n175b"><circle cx="751" cy="473"/><text x="751" y="473">175</text></g>
<g id="n127"><circle cx="698" cy="468"/><text x="698" y="468">127</text></g>
<g id="n46"><circle cx="742" cy="481"/><text x="742" y="481">46</text></g>
<g id="n191"><circle cx="731" cy="502"/><text x="731" y="502">191</text></g>
<g id="n197"><circle cx="750" cy="510"/><text x="744" y="503">97</text></g>
<g id="n468"><circle cx="906" cy="464"/><text x="906" y="464">468</text></g>
<g id="n51"><circle cx="903" cy="479"/><text x="903" y="479">51</text></g>
<g id="n499"><circle cx="888" cy="477"/><text x="888" y="477">499</text></g>
<g id="n317"><circle cx="858" cy="477"/><text x="858" y="477">317</text></g>
<g id="n281"><circle cx="860" cy="481"/><text x="858" y="481">281</text></g>
<g id="n177"><circle cx="881" cy="497"/><text x="881" y="497">177</text></g>
<g id="n229"><circle cx="907" cy="501"/><text x="907" y="501">229</text></g>
<g id="n13"><circle cx="838" cy="483"/><text x="838" y="483">13</text></g>
<g id="n315"><circle cx="845" cy="489"/><text x="845" y="489">315</text></g>
<g id="n36"><circle cx="845" cy="498"/><text x="845" y="498">36</text></g>
<g id="n143"><circle cx="678" cy="504"/><text x="678" y="504">143</text></g>
<g id="n479"><circle cx="787" cy="498"/><text x="787" y="498">479</text></g>
<g id="n205"><circle cx="808" cy="517"/><text x="808" y="517">205</text></g>
<g id="n193"><circle cx="813" cy="529"/><text x="813" y="529">193</text></g>
<g id="n380"><circle cx="837" cy="528"/><text x="837" y="528">380</text></g>
<g id="n246"><circle cx="774" cy="516"/><text x="774" y="516">246</text></g>
<g id="n32"><circle cx="767" cy="522"/><text x="767" y="522">32</text></g>
<g id="n323"><circle cx="768" cy="537"/><text x="768" y="537">323</text></g>
<g id="n428"><circle cx="796" cy="538"/><text x="796" y="538">428</text></g>
<g id="n503"><circle cx="825" cy="550"/><text x="825" y="550">503</text></g>
<g id="n374"><circle cx="798" cy="554"/><text x="798" y="554">374</text></g>
<g id="n77"><circle cx="785" cy="557"/><text x="785" y="557">77</text></g>
<g id="n379"><circle cx="772" cy="557"/><text x="773" y="557">79</text></g>
<g id="n44b"><circle cx="768" cy="553"/><text x="768" y="553">44</text></g>
<g id="n395"><circle cx="768" cy="566"/><text x="768" y="566">395</text></g>
<g id="n373"><circle cx="794" cy="584"/><text x="794" y="584">373</text></g>
<g id="n100"><circle cx="779" cy="582"/><text x="779" y="582">100</text></g>
<g id="n526"><circle cx="750" cy="563"/><text x="750" y="563">526</text></g>
<g id="n104"><circle cx="724" cy="535"/><text x="724" y="535">104</text></g>
<g id="n469"><circle cx="722" cy="512"/><text x="722" y="512">469</text></g>
<g id="n105"><circle cx="692" cy="546"/><text x="692" y="546">105</text></g>
<g id="n164"><circle cx="696" cy="564"/><text x="696" y="564">164</text></g>
<g id="n57"><circle cx="702" cy="567"/><text x="702" y="567">57</text></g>
<g id="n149"><circle cx="682" cy="579"/><text x="682" y="579">149</text></g>
<g id="n447"><circle cx="653" cy="535"/><text x="653" y="535">447</text></g>
<g id="n368"><circle cx="652" cy="570"/><text x="652" y="570">368</text></g>
<g id="n247"><circle cx="662" cy="607"/><text x="662" y="607">247</text></g>
<g id="n95"><circle cx="656" cy="614"/><text x="656" y="614">95</text></g>
<g id="n152"><circle cx="682" cy="618"/><text x="682" y="618">152</text></g>
<g id="n337"><circle cx="692" cy="622"/><text x="692" y="622">337</text></g>
<g id="n402"><circle cx="703" cy="601"/><text x="703" y="601">402</text></g>
<g id="n166"><circle cx="715" cy="610"/><text x="715" y="610">166</text></g>
<g id="n151"><circle cx="741" cy="611"/><text x="741" y="611">151</text></g>
<g id="n334"><circle cx="734" cy="637"/><text x="734" y="637">334</text></g>
<g id="n285"><circle cx="636" cy="639"/><text x="636" y="639">285</text></g>
<g id="n252"><circle cx="648" cy="650"/><text x="648" y="650">252</text></g>
<g id="n22"><circle cx="660" cy="656"/><text x="660" y="656">22</text></g>
<g id="n387"><circle cx="624" cy="595"/><text x="624" y="595">387</text></g>
<g id="n86b"><circle cx="640" cy="597"/><text x="640" y="597">86</text></g>
<g id="n82"><circle cx="625" cy="614"/><text x="625" y="614">82</text></g>
<g id="n67"><circle cx="637" cy="537"/><text x="637" y="537">67</text></g>
<g id="n17"><circle cx="615" cy="566"/><text x="615" y="566">17</text></g>
<g id="n30b"><circle cx="629" cy="563"/><text x="629" y="563">30</text></g>
<g id="n272"><circle cx="636" cy="566"/><text x="636" y="566">272</text></g>
<g id="n224"><circle cx="590" cy="567"/><text x="590" y="567">224</text></g>
<g id="n276"><circle cx="595" cy="618"/><text x="595" y="618">276</text></g>
<g id="n7"><circle cx="605" cy="651"/><text x="605" y="651">7</text></g>
<g id="n145"><circle cx="564" cy="621"/><text x="564" y="621">145</text></g>
<g id="n23"><circle cx="565" cy="647"/><text x="565" y="647">23</text></g>
<g id="n482"><circle cx="580" cy="650"/><text x="580" y="650">482</text></g>
<g id="n55"><circle cx="558" cy="603"/><text x="558" y="603">55</text></g>
<g id="n227"><circle cx="530" cy="603"/><text x="530" y="603">227</text></g>
<g id="n170"><circle cx="513" cy="605"/><text x="513" y="605">170</text></g>
<g id="n372"><circle cx="503" cy="613"/><text x="503" y="613">372</text></g>
<g id="n79"><circle cx="524" cy="614"/><text x="524" y="614">79</text></g>
<g id="n210"><circle cx="533" cy="619"/><text x="533" y="619">210</text></g>
<g id="n74b"><circle cx="532" cy="648"/><text x="532" y="648">74</text></g>
<g id="n73"><circle cx="541" cy="648"/><text x="541" y="648">73</text></g>
<g id="n417"><circle cx="534" cy="664"/><text x="534" y="664">417</text></g>
<g id="n144b"><circle cx="491" cy="636"/><text x="491" y="636">144</text></g>
<g id="n220"><circle cx="505" cy="637"/><text x="505" y="637">220</text></g>
<g id="n238"><circle cx="506" cy="654"/><text x="506" y="654">238</text></g>
<g id="n507"><circle cx="463" cy="650"/><text x="463" y="650">507</text></g>
<g id="n279b"><circle cx="470" cy="661"/><text x="470" y="661">279</text></g>
<g id="n476"><circle cx="480" cy="662"/><text x="480" y="662">476</text></g>
<g id="n26"><circle cx="486" cy="658"/><text x="486" y="658">26</text></g>
<g id="n519"><circle cx="465" cy="566"/><text x="465" y="566">519</text></g>
<g id="n111"><circle cx="446" cy="597"/><text x="446" y="597">111</text></g>
<g id="n378b"><circle cx="454" cy="606"/><text x="454" y="606">378</text></g>
<g id="n81"><circle cx="467" cy="607"/><text x="467" y="607">81</text></g>
<g id="n33b"><circle cx="475" cy="544"/><text x="475" y="544">33</text></g>
<g id="n464"><circle cx="492" cy="564"/><text x="492" y="564">464</text></g>
<g id="n424"><circle cx="519" cy="525"/><text x="519" y="525">424</text></g>
<g id="n183"><circle cx="540" cy="571"/><text x="540" y="571">183</text></g>
<g id="n140"><circle cx="598" cy="545"/><text x="598" y="545">140</text></g>
<g id="n429"><circle cx="638" cy="497"/><text x="638" y="497">429</text></g>
<g id="n64"><circle cx="649" cy="500"/><text x="649" y="500">64</text></g>
</g>
</svg>
